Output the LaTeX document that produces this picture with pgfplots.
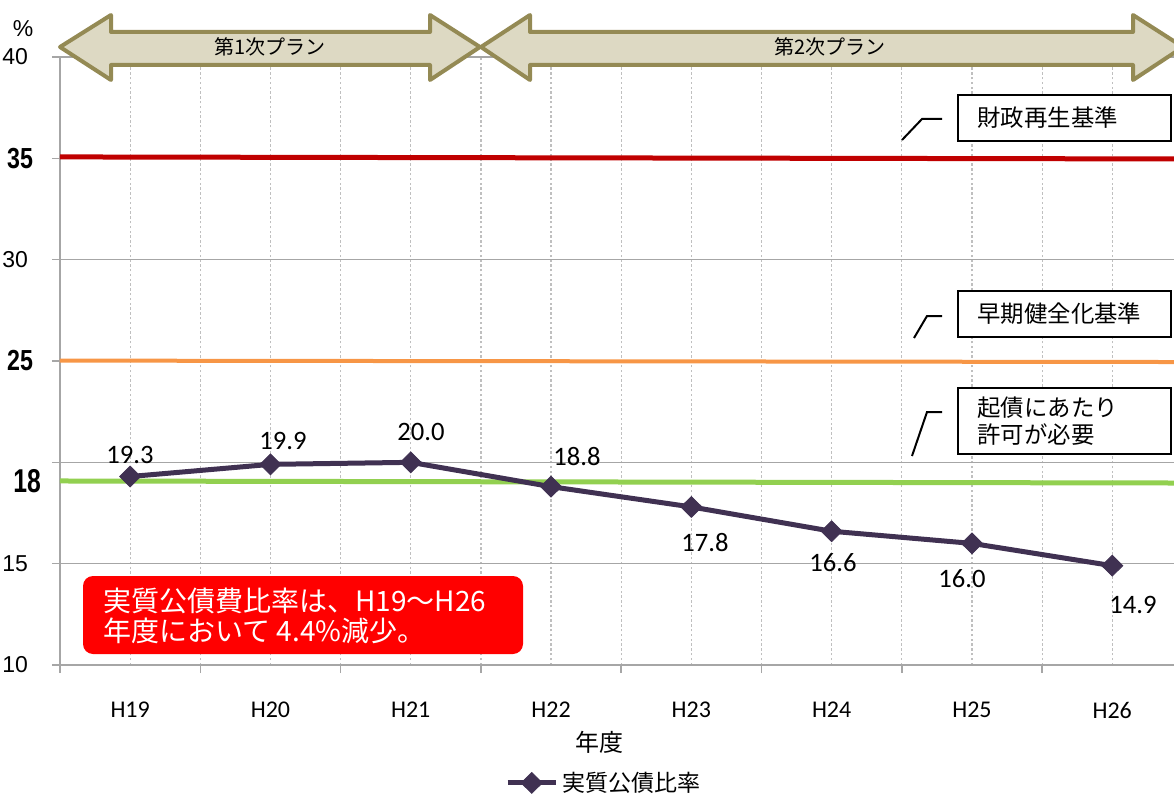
\documentclass[border=0pt]{standalone}
\usepackage{pgfplots}
\pgfplotsset{compat=1.18}
\usepackage{fontspec}
\usepackage{graphicx}
\setmainfont{Carlito}
\newfontfamily\jp{Noto Sans CJK JP}
\newfontfamily\arial{Liberation Sans}
\definecolor{series}{HTML}{403152}
\definecolor{redline}{HTML}{C00000}
\definecolor{orangeline}{HTML}{F79646}
\definecolor{greenline}{HTML}{92D050}
\definecolor{gridgray}{HTML}{A6A6A6}
\definecolor{dotgray}{HTML}{BFBFBF}
\definecolor{arrowfill}{HTML}{DDD9C3}
\definecolor{arrowdraw}{HTML}{948A54}
\newcommand{\ynum}[1]{{\fontsize{11.5}{12}\arial #1\kern2.5pt}}
\newcommand{\bnum}[1]{\scalebox{0.8}[1]{\fontsize{14.5}{15}\arial\bfseries #1}}
\newcommand{\bnumL}[1]{\scalebox{0.75}[1]{\fontsize{16.5}{17}\arial\bfseries #1}}
\begin{document}
\begin{tikzpicture}
\useasboundingbox (-30pt,-64.5pt) rectangle (557pt,332.5pt);
\begin{axis}[
  at={(0pt,0pt)}, anchor=south west,
  scale only axis, width=557pt, height=304pt,
  xmin=-0.5, xmax=7.44, ymin=10, ymax=40,
  axis lines=left,
  axis line style={draw=gridgray, line width=0.8pt, -},
  tick align=outside,
  major tick length=4pt, minor tick length=4pt,
  every tick/.style={draw=gridgray, line width=0.8pt},
  xtick={0,1,2,3,4,5,6,7},
  xticklabels={H19,H20,H21,H22,H23,H24,H25,H26},
  minor xtick={-0.5,0.5,1.5,2.5,3.5,4.5,5.5,6.5},
  major x tick style={draw=none},
  xmajorgrids, xminorgrids,
  major x grid style={draw=dotgray, line width=0.6pt, dash pattern=on 1.2pt off 1.2pt},
  minor x grid style={draw=dotgray, line width=0.6pt, dash pattern=on 1.2pt off 1.2pt},
  xticklabel style={font=\fontsize{12}{12}\selectfont, anchor=north, yshift=-11pt},
  ytick={10,15,20,25,30,35,40},
  yticklabels={\ynum{10},\ynum{15},{},\bnum{25},\ynum{30},\bnum{35},\ynum{40}},
  ymajorgrids,
  major y grid style={draw=gridgray, line width=0.8pt},
  yticklabel style={anchor=east, xshift=-6pt},
  extra y ticks={19.05},
  extra y tick labels={\bnumL{18}},
  extra y tick style={grid=none, major tick length=0pt, tick style={draw=none}},
  xlabel={\jp 年度},
  x label style={at={(axis description cs:0.484,-0.128)}, anchor=center, font=\fontsize{12}{12}\selectfont},
  legend style={at={(axis description cs:0.489,-0.194)}, anchor=center, draw=none, fill=none,
    font=\fontsize{11.5}{12}\selectfont\jp, inner sep=0pt},
  legend image code/.code={\draw[mark repeat=2,mark phase=2,#1] plot coordinates {(0pt,0pt) (12pt,0pt) (24pt,0pt)};},
  clip=false,
]
\addplot[forget plot, draw=redline, line width=2.5pt] coordinates {(-0.5,35.07) (7.44,34.97)};
\addplot[forget plot, draw=orangeline, line width=2pt] coordinates {(-0.5,25.02) (7.44,24.95)};
\addplot[forget plot, draw=greenline, line width=2.5pt] coordinates {(-0.5,19.08) (7.44,18.98)};
\addplot[draw=series, line width=2.5pt, mark=diamond*,
  mark options={solid, fill=series, draw=series, line width=0.4pt, xscale=1.35}, mark size=5.2pt]
  coordinates {(0,19.3) (1,19.9) (2,20.0) (3,18.8) (4,17.8) (5,16.6) (6,16.0) (7,14.9)};
\addlegendentry{実質公債比率}
\end{axis}
\begin{scope}[shift={(-30pt,332.5pt)}, x=0.5pt, y=-0.5pt]
  % plan arrows
  \draw[fill=arrowfill, draw=arrowdraw, line width=2pt, line join=round]
    (60,47) -- (111,15) -- (111,32) -- (430,32) -- (430,15) -- (480,47) -- (430,80) -- (430,65) -- (111,65) -- (111,80) -- cycle;
  \draw[fill=arrowfill, draw=arrowdraw, line width=2pt, line join=round]
    (481,47) -- (530,15) -- (530,32) -- (1133,32) -- (1133,15) -- (1183,47) -- (1133,80) -- (1133,65) -- (530,65) -- (530,80) -- cycle;
  \node[font=\fontsize{10}{10}\selectfont\jp] at (270,47) {第1次プラン};
  \node[font=\fontsize{10}{10}\selectfont\jp] at (830,47) {第2次プラン};
  % percent sign
  \node[font=\fontsize{11.5}{12}\selectfont\arial] at (23,29) {\%};
  % data labels
  \begin{scope}[every node/.style={font=\fontsize{13.3}{14}\selectfont}]
    \node at (130,455) {19.3};
    \node at (283,441) {19.9};
    \node at (421,432) {20.0};
    \node at (577,457) {18.8};
    \node at (705,543) {17.8};
    \node at (833,563) {16.6};
    \node at (962,579) {16.0};
    \node at (1133,605) {14.9};
  \end{scope}
  % callouts
  \draw[line width=1pt] (902,140) -- (922,119) -- (942,119);
  \draw[line width=1pt, fill=white] (958,95) rectangle (1171,141);
  \node[anchor=west, inner sep=0pt, font=\fontsize{11.7}{12}\selectfont\jp] at (977,118) {財政再生基準};
  \draw[line width=1pt] (914,338) -- (927,316) -- (942,316);
  \draw[line width=1pt, fill=white] (958,291) rectangle (1171,337);
  \node[anchor=west, inner sep=0pt, font=\fontsize{11.7}{12}\selectfont\jp] at (977,314) {早期健全化基準};
  \draw[line width=1pt] (912,456) -- (927,412) -- (942,412);
  \draw[line width=1pt, fill=white] (958,388) rectangle (1171,454);
  \node[anchor=west, inner sep=0pt, font=\fontsize{11.7}{12}\selectfont\jp] at (977,408) {起債にあたり};
  \node[anchor=west, inner sep=0pt, font=\fontsize{11.7}{12}\selectfont\jp] at (977,435) {許可が必要};
  % red summary box
  \fill[red, rounded corners=5pt] (83,576) rectangle (523,654);
  \node[anchor=west, inner sep=0pt, text=white, font=\fontsize{14}{14}\selectfont\jp] at (103,601) {実質公債費比率は、H19～H26};
  \node[anchor=west, inner sep=0pt, text=white, font=\fontsize{14}{14}\selectfont\jp] at (103,631) {年度において 4.4\%減少。};
\end{scope}
\end{tikzpicture}
\end{document}
